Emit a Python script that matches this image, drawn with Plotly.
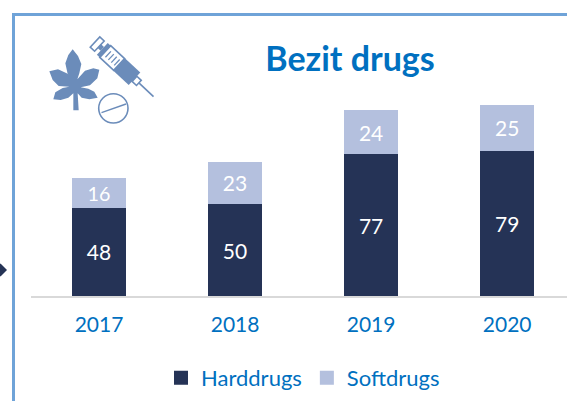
import math
import plotly.graph_objects as go

years = ["2017", "2018", "2019", "2020"]
harddrugs = [48, 50, 77, 79]
softdrugs = [16, 23, 24, 25]

W, H = 567, 401
NAVY = "#253356"
LILAC = "#b4c0de"
BLUE = "#0070c0"
FRAME = "#6fa3d8"
ICON = "#6b8cba"
FONT = "Lato, Carlito, 'Open Sans', sans-serif"
AXIS_Y = 296


def px(x):
    return x / W


def py(y):
    return 1 - y / H


def path(points, close=True):
    s = "M " + " L ".join(f"{px(x):.5f},{py(y):.5f}" for x, y in points)
    return s + (" Z" if close else "")


def poly(points, fill=ICON, line=None, width=0, close=True):
    return dict(type="path", xref="paper", yref="paper", path=path(points, close),
                fillcolor=fill if fill else "rgba(0,0,0,0)",
                line=dict(color=line or "rgba(0,0,0,0)", width=width), layer="above")


def z(points):
    return [(a / 3, b / 3) for a, b in points]


# syringe local frame: u along the needle, v across it (in image pixels)
O = (95.0, 42.0)
ang = math.radians(43)


def syr(u, v):
    return (O[0] + u * math.cos(ang) - v * math.sin(ang),
            O[1] + u * math.sin(ang) + v * math.cos(ang))


def rect(u0, u1, hw):
    return [syr(u0, -hw), syr(u1, -hw), syr(u1, hw), syr(u0, hw)]


leaf = z([(226, 240), (203, 222), (196, 190), (205, 165), (218, 148), (234, 168), (244, 192), (238, 220),
          (232, 238), (255, 212), (280, 205), (298, 209), (292, 235), (270, 256), (242, 262),
          (265, 266), (283, 275), (293, 293), (268, 298), (245, 293), (233, 280), (236, 331), (220, 331),
          (220, 280), (205, 293), (182, 300), (160, 298), (166, 277), (188, 264), (208, 260),
          (176, 258), (158, 240), (148, 214), (174, 208), (200, 220)])

shapes = [
    dict(type="line", xref="paper", yref="paper", x0=px(13.5), x1=px(13.5), y0=py(13), y1=py(401),
         line=dict(color=FRAME, width=3)),
    dict(type="line", xref="paper", yref="paper", x0=px(12), x1=px(567), y0=py(14.5), y1=py(14.5),
         line=dict(color=FRAME, width=3)),
    poly([(-6, 270), (0.5, 263.5), (7, 270), (0.5, 276.5)], fill=NAVY),
    poly(leaf),
    poly(rect(0, 6, 7), fill=None, line=ICON, width=1.6),
    poly(rect(6, 10, 2.5)),
    poly(rect(10, 14, 8)),
    poly(rect(14, 33, 8), fill=None, line=ICON, width=1.6),
    poly(rect(33, 54, 8.5)),
    poly(rect(54, 60, 3.5), fill=None, line=ICON, width=1.6),
    poly([syr(60, 0), syr(80, 0)], fill=None, line=ICON, width=1.6, close=False),
    poly([syr(18, -4), syr(18, 4)], fill=None, line=ICON, width=1.3, close=False),
    poly([syr(22, -4), syr(22, 4)], fill=None, line=ICON, width=1.3, close=False),
    poly([syr(26, -4), syr(26, 4)], fill=None, line=ICON, width=1.3, close=False),
    poly([syr(30, -4), syr(30, 4)], fill=None, line=ICON, width=1.3, close=False),
    dict(type="circle", xref="paper", yref="paper", x0=px(98.7), x1=px(128), y0=py(93.7), y1=py(123),
         line=dict(color=ICON, width=1.6), fillcolor="rgba(0,0,0,0)"),
    poly([(101.5, 112.7), (126, 104)], fill=None, line=ICON, width=1.4, close=False),
]

fig = go.Figure()
fig.add_bar(name="Harddrugs", x=years, y=harddrugs, marker=dict(color=NAVY, line=dict(width=0)), showlegend=False,
            text=harddrugs, textposition="inside", insidetextanchor="middle", textangle=0,
            insidetextfont=dict(color="white", size=21, family=FONT), hoverinfo="skip")
fig.add_bar(name="Softdrugs", x=years, y=softdrugs, marker=dict(color=LILAC, line=dict(width=0)), showlegend=False,
            text=softdrugs, textposition="inside", insidetextanchor="middle", textangle=0,
            insidetextfont=dict(color="white", size=21, family=FONT), hoverinfo="skip")
# legend keys only: same names and colours, with a thicker key than a plain bar gets
for name, colour in (("Harddrugs", NAVY), ("Softdrugs", LILAC)):
    fig.add_bar(name=name, x=years, y=[None] * len(years),
                marker=dict(color=colour, line=dict(color=colour, width=2)), hoverinfo="skip")

fig.update_layout(
    width=W, height=H, autosize=False, barmode="stack", bargap=0.6,
    margin=dict(l=0, r=0, t=0, b=0), paper_bgcolor="white", plot_bgcolor="white",
    font=dict(family=FONT, color=BLUE, size=21),
    title=dict(text="<b>Bezit drugs</b>", font=dict(size=34, color=BLUE, family=FONT),
               x=px(350), xanchor="center", xref="paper", y=py(59), yanchor="middle", yref="container"),
    xaxis=dict(domain=[px(31), 1], range=[-0.5, 3.44], type="category", showline=True, linecolor="#d9d9d9",
               linewidth=2, ticks="", ticklen=0, showgrid=False, tickfont=dict(size=21, color=BLUE, family=FONT),
               ticklabelstandoff=9, fixedrange=True),
    yaxis=dict(domain=[py(AXIS_Y), 1], range=[0, AXIS_Y / 1.84], visible=False, fixedrange=True),
    legend=dict(orientation="h", x=px(161), xanchor="left", y=py(378), yanchor="middle",
                font=dict(size=22, color=BLUE, family=FONT), traceorder="normal", bgcolor="rgba(0,0,0,0)"),
    shapes=shapes,
)
fig.write_html("out.html", config={"displayModeBar": False},
               post_script="document.body.style.margin='0';document.body.style.overflow='hidden';window.dispatchEvent(new Event('resize'));")
